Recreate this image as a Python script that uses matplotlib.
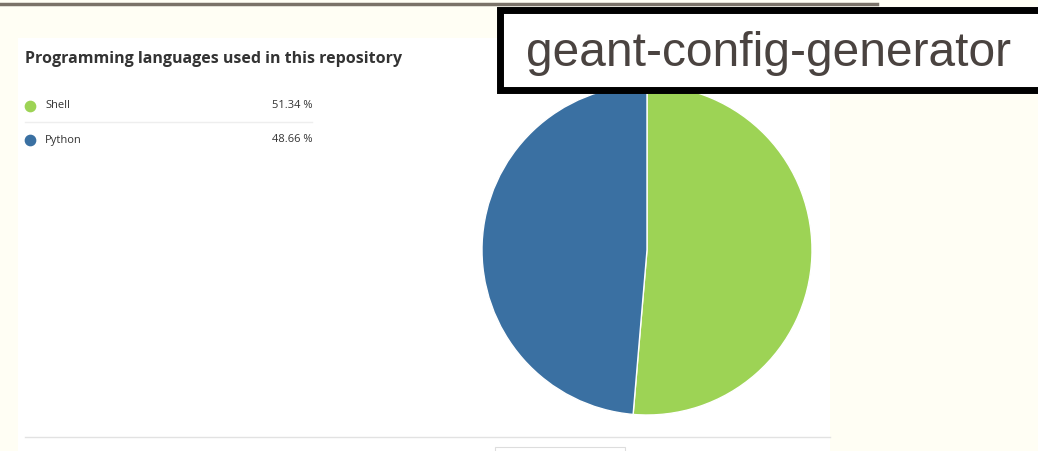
import matplotlib
matplotlib.use("Agg")
import matplotlib.pyplot as plt
from matplotlib.patches import Rectangle

languages = ["Shell", "Python"]
shares = [51.34, 48.66]
colors = ["#9DD355", "#3A70A2"]
repo_name = "geant-config-generator"
panel_title = "Programming languages used in this repository"

W, H = 1038, 451
fig = plt.figure(figsize=(W / 100, H / 100), dpi=100)
fig.patch.set_facecolor("#FFFEF4")

# pixel-space overlay
bg = fig.add_axes([0, 0, 1, 1])
bg.set_xlim(0, W)
bg.set_ylim(H, 0)
bg.axis("off")

bg.plot([0, 877], [4, 4], color="#7A7268", lw=2.5)
bg.add_patch(Rectangle((18, 38), 812, 420, facecolor="white", edgecolor="none"))
bg.plot([25, 830], [437, 437], color="#E2E2E2", lw=1)
bg.add_patch(Rectangle((495, 447), 130, 10, facecolor="white", edgecolor="#DDDDDD", lw=0.8))

bg.text(25, 59, panel_title, fontsize=11.5, fontweight="bold", color="#333333",
        va="center", ha="left", family="Open Sans")

rows_y = [106, 140]
for i, (lang, val) in enumerate(zip(languages, shares)):
    y = rows_y[i]
    bg.scatter([30], [y], s=55, color=colors[i], zorder=3)
    bg.text(45, y, lang, fontsize=8, color="#333333", va="center", family="Open Sans")
    bg.text(312, y, f"{val:.2f} %", fontsize=8, color="#333333", va="center",
            ha="right", family="Open Sans")
bg.plot([25, 312], [122, 122], color="#EEEEEE", lw=1)

# pie
pax = fig.add_axes([482 / W, (H - 415) / H, 330 / W, 330 / H])
pax.pie(shares, colors=colors, startangle=90, counterclock=False,
        wedgeprops=dict(edgecolor="white", linewidth=1))
pax.set_aspect("equal")
pax.set_xlim(-1, 1)
pax.set_ylim(-1, 1)
pax.axis("off")

# repo name box on top
top = fig.add_axes([0, 0, 1, 1], facecolor="none")
top.set_xlim(0, W)
top.set_ylim(H, 0)
top.axis("off")
top.add_patch(Rectangle((500, 10), 560, 80, facecolor="white", edgecolor="black", lw=5))
top.text(769, 53, repo_name, fontsize=34.5, color="#4A4340", ha="center", va="center",
         family="Liberation Sans")

fig.savefig("out.png", dpi=100, facecolor=fig.get_facecolor())
